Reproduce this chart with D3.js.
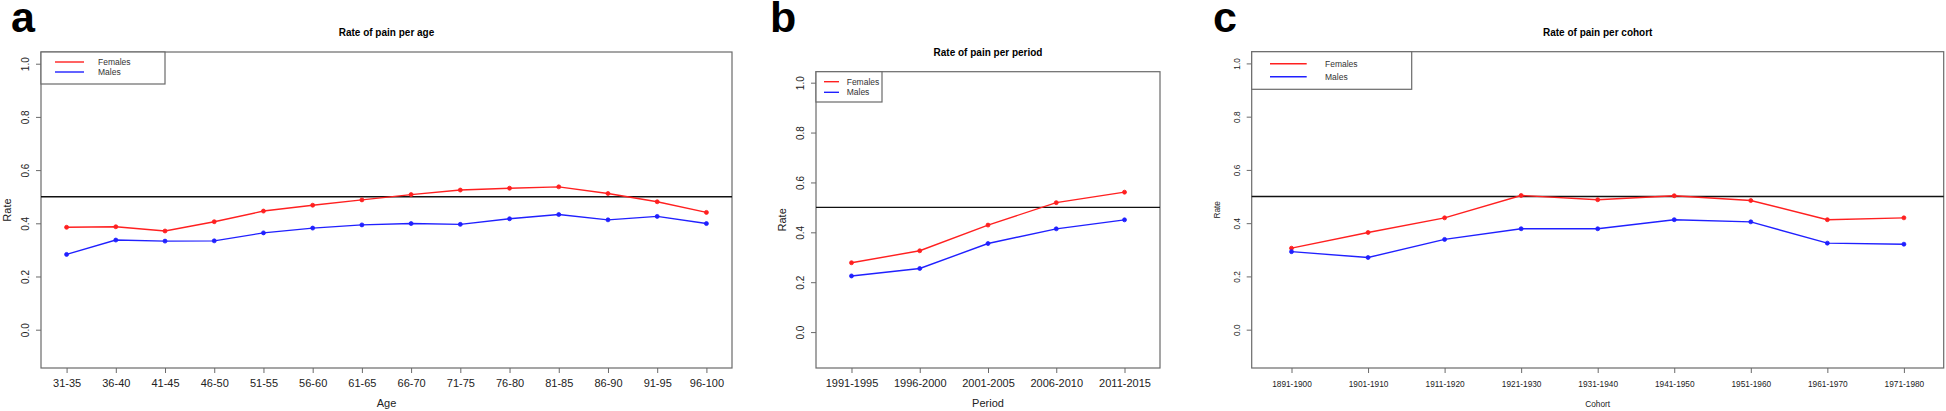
<!DOCTYPE html>
<html>
<head>
<meta charset="utf-8">
<script src="https://cdn.jsdelivr.net/npm/d3@7"></script>
<style>
  html, body { margin: 0; padding: 0; background: #fff; }
  svg { display: block; font-family: "Liberation Sans", Arial, sans-serif; }
</style>
</head>
<body>
<svg id="chart" width="1946" height="411"></svg>
<script>
// ---------- DATA ----------
const ageCategories = ["31-35","36-40","41-45","46-50","51-55","56-60","61-65","66-70","71-75","76-80","81-85","86-90","91-95","96-100"];
const ageFemales = [0.385,0.387,0.371,0.406,0.446,0.468,0.488,0.508,0.525,0.532,0.537,0.512,0.481,0.441];
const ageMales   = [0.283,0.337,0.333,0.334,0.364,0.382,0.394,0.399,0.396,0.417,0.433,0.413,0.426,0.399];

const periodCategories = ["1991-1995","1996-2000","2001-2005","2006-2010","2011-2015"];
const periodFemales = [0.278,0.326,0.429,0.519,0.561];
const periodMales   = [0.225,0.255,0.355,0.414,0.450];

const cohortCategories = ["1891-1900","1901-1910","1911-1920","1921-1930","1931-1940","1941-1950","1951-1960","1961-1970","1971-1980"];
const cohortFemales = [0.306,0.365,0.420,0.504,0.488,0.503,0.485,0.413,0.420];
const cohortMales   = [0.293,0.271,0.339,0.379,0.379,0.413,0.405,0.325,0.321];

const yTicks = [0.0,0.2,0.4,0.6,0.8,1.0];
const referenceLine = 0.5;
const seriesNames = ["Females","Males"];
const seriesColors = ["#ff2020","#2020ff"];

// ---------- LAYOUT ----------
const panels = [
  { letter:"a", title:"Rate of pain per age", xLabel:"Age", cats:ageCategories, series:[ageFemales, ageMales],
    box:[41,52,732,368], letterX:11, titleY:35.5, yTickLabelX:25, rateX:7,
    xTickFont:11, yTickFont:10, labelFont:11, xTickY:387, xLabelY:407,
    legend:{box:[41,52,165,84], lx0:55, lx1:84, ly:[62,72], tx:98, font:8.5} },
  { letter:"b", title:"Rate of pain per period", xLabel:"Period", cats:periodCategories, series:[periodFemales, periodMales],
    box:[816,71.7,1160,368], letterX:770, titleY:55.5, yTickLabelX:800.7, rateX:782,
    xTickFont:11, yTickFont:10, labelFont:11, xTickY:387, xLabelY:407,
    legend:{box:[816,71.7,882,102], lx0:824, lx1:839, ly:[81.7,92.3], tx:846.7, font:8.5} },
  { letter:"c", title:"Rate of pain per cohort", xLabel:"Cohort", cats:cohortCategories, series:[cohortFemales, cohortMales],
    box:[1251.7,51.7,1943.7,368], letterX:1213, titleY:35.5, yTickLabelX:1236.7, rateX:1216.7,
    xTickFont:8.3, yTickFont:8.3, labelFont:8.3, xTickY:386.5, xLabelY:407,
    legend:{box:[1251.7,51.7,1411.7,89.3], lx0:1270, lx1:1306.7, ly:[63.7,76.7], tx:1325, font:8.5} }
];

const svg = d3.select("#chart");
const gray = "#6a6a6a";

panels.forEach(p => {
  const [x0,y0,x1,y1] = p.box;
  const g = svg.append("g");

  const x = d3.scalePoint().domain(p.cats).range([x0,x1]).padding(0.52);
  const y = d3.scaleLinear().domain([-0.144,1.044]).range([y1,y0]);

  // panel letter
  g.append("text").attr("x",p.letterX).attr("y",32)
    .attr("font-size",43).attr("font-weight","bold").attr("fill","#000").text(p.letter);
  // title
  g.append("text").attr("x",(x0+x1)/2).attr("y",p.titleY).attr("text-anchor","middle")
    .attr("font-size",10).attr("font-weight","bold").attr("fill","#000").text(p.title);

  // x axis
  const xa = g.append("g").attr("transform",`translate(0,${y1})`)
    .call(d3.axisBottom(x).tickSize(5).tickPadding(3));
  xa.select(".domain").remove();
  xa.selectAll(".tick line").attr("stroke",gray);
  xa.selectAll(".tick text").attr("font-size",p.xTickFont).attr("fill","#222")
    .attr("font-family","Liberation Sans, Arial, sans-serif")
    .attr("dy",null).attr("y",p.xTickY - y1);

  // y axis
  const ya = g.append("g").attr("transform",`translate(${x0},0)`)
    .call(d3.axisLeft(y).tickValues(yTicks).tickFormat(d3.format(".1f")).tickSize(5));
  ya.select(".domain").remove();
  ya.selectAll(".tick line").attr("stroke",gray);
  ya.selectAll(".tick text").attr("font-size",p.yTickFont).attr("fill","#222")
    .attr("font-family","Liberation Sans, Arial, sans-serif")
    .attr("x",null).attr("dy",null)
    .attr("text-anchor","middle").attr("dominant-baseline","central")
    .attr("transform",`translate(${p.yTickLabelX - x0},0) rotate(-90)`);

  // axis titles
  g.append("text").attr("x",(x0+x1)/2).attr("y",p.xLabelY).attr("text-anchor","middle")
    .attr("font-size",p.labelFont).attr("fill","#222").text(p.xLabel);
  g.append("text").attr("text-anchor","middle").attr("dominant-baseline","central")
    .attr("transform",`translate(${p.rateX},${(y0+y1)/2}) rotate(-90)`)
    .attr("font-size",p.labelFont).attr("fill","#222").text("Rate");

  // box
  g.append("rect").attr("x",x0).attr("y",y0).attr("width",x1-x0).attr("height",y1-y0)
    .attr("fill","none").attr("stroke",gray).attr("stroke-width",1.2);

  // reference line
  g.append("line").attr("x1",x0).attr("x2",x1).attr("y1",y(referenceLine)).attr("y2",y(referenceLine))
    .attr("stroke","#111").attr("stroke-width",1.4);

  // series
  const line = d3.line().x((d,i)=>x(p.cats[i])).y(d=>y(d));
  p.series.forEach((vals,si) => {
    g.append("path").datum(vals).attr("d",line).attr("fill","none")
      .attr("stroke",seriesColors[si]).attr("stroke-width",1.4);
    g.selectAll(null).data(vals).enter().append("circle")
      .attr("cx",(d,i)=>x(p.cats[i])).attr("cy",d=>y(d)).attr("r",2)
      .attr("fill",seriesColors[si]).attr("stroke",seriesColors[si]).attr("stroke-width",0.8);
  });

  // legend
  const L = p.legend;
  g.append("rect").attr("x",L.box[0]).attr("y",L.box[1]).attr("width",L.box[2]-L.box[0]).attr("height",L.box[3]-L.box[1])
    .attr("fill","#fff").attr("stroke",gray).attr("stroke-width",1.2);
  seriesNames.forEach((name,si) => {
    g.append("line").attr("x1",L.lx0).attr("x2",L.lx1).attr("y1",L.ly[si]).attr("y2",L.ly[si])
      .attr("stroke",seriesColors[si]).attr("stroke-width",1.4);
    g.append("text").attr("x",L.tx).attr("y",L.ly[si]).attr("dominant-baseline","central")
      .attr("font-size",L.font).attr("fill","#333").text(name);
  });
});
</script>
</body>
</html>
